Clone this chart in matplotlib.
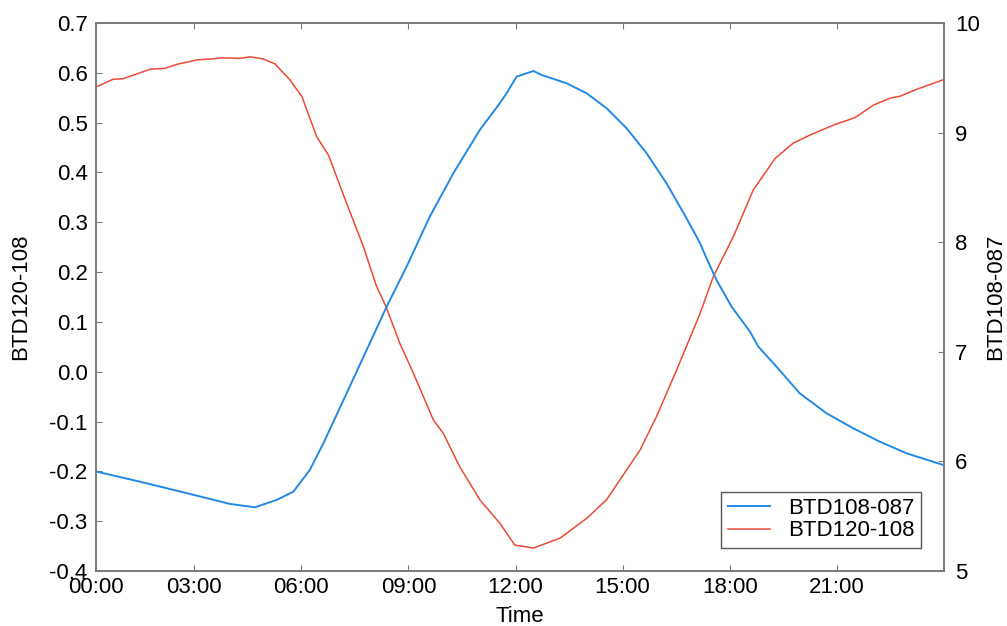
import numpy as np
import matplotlib
matplotlib.use("Agg")
import matplotlib.pyplot as plt

plt.rcParams['font.family'] = ['Liberation Sans', 'DejaVu Sans']
plt.rcParams['axes.unicode_minus'] = False

# BTD120-108 (left axis), hours of day vs value
t_120 = [0.27, 0.73, 1.01, 1.76, 2.18, 2.52, 3.08, 3.53, 3.78, 4.28, 4.56, 4.93,
         5.26, 5.68, 6.02, 6.43, 6.76, 7.27, 7.74, 8.11, 8.37, 8.76, 9.14, 9.70,
         9.98, 10.44, 11.00, 11.56, 11.98, 12.50, 13.25, 14.00, 14.55, 15.02,
         15.49, 15.95, 16.51, 16.98, 17.17, 17.54, 18.10, 18.66, 19.27, 19.78,
         20.25, 20.90, 21.51, 22.02, 22.49, 22.77, 23.24, 23.98]
btd_120 = [0.572, 0.587, 0.588, 0.607, 0.609, 0.617, 0.626, 0.628, 0.630, 0.629,
           0.632, 0.628, 0.618, 0.586, 0.552, 0.472, 0.435, 0.338, 0.251, 0.171,
           0.131, 0.057, -0.003, -0.097, -0.124, -0.191, -0.257, -0.304, -0.348,
           -0.354, -0.334, -0.294, -0.257, -0.207, -0.157, -0.090, 0.003, 0.084,
           0.117, 0.191, 0.271, 0.365, 0.428, 0.459, 0.475, 0.495, 0.510, 0.535,
           0.549, 0.553, 0.567, 0.586]

# BTD108-087 (right axis)
t_108 = [0.27, 1.48, 2.88, 4.00, 4.70, 5.31, 5.78, 6.24, 6.62, 7.27, 7.83, 8.39,
         8.95, 9.60, 10.26, 11.00, 11.56, 11.75, 12.03, 12.50, 12.73, 13.43,
         13.99, 14.55, 15.11, 15.67, 16.23, 16.79, 17.17, 17.35, 17.63, 18.05,
         18.57, 18.80, 19.31, 19.96, 20.71, 21.46, 22.20, 22.95, 23.98]
btd_108 = [5.906, 5.815, 5.703, 5.612, 5.581, 5.648, 5.724, 5.922, 6.166, 6.621,
           7.016, 7.411, 7.777, 8.233, 8.629, 9.024, 9.267, 9.359, 9.510, 9.562,
           9.526, 9.450, 9.359, 9.222, 9.040, 8.812, 8.537, 8.218, 7.990, 7.853,
           7.655, 7.412, 7.183, 7.047, 6.864, 6.621, 6.439, 6.302, 6.180, 6.074,
           5.967]

x_ticks = [0.25, 3, 6, 9, 12, 15, 18, 21]
x_ticklabels = ['00:00', '03:00', '06:00', '09:00', '12:00', '15:00', '18:00', '21:00']
y_left_ticks = [-0.4, -0.3, -0.2, -0.1, 0.0, 0.1, 0.2, 0.3, 0.4, 0.5, 0.6, 0.7]
y_right_ticks = [5, 6, 7, 8, 9, 10]

c_blue = '#2389e6'
c_red = '#ec4a36'
c_axis = '#7a7a7a'
fs = 16

fig = plt.figure(figsize=(10.07, 6.26), dpi=100)
ax = fig.add_axes([0.0953, 0.0879, 0.8421, 0.8754])
ax2 = ax.twinx()

l_red, = ax.plot(t_120, btd_120, color=c_red, linewidth=1.1, label='BTD120-108')
l_blue, = ax2.plot(t_108, btd_108, color=c_blue, linewidth=1.4, label='BTD108-087')

ax.set_xlim(0.25, 24.0)
ax.set_ylim(-0.4, 0.7)
ax2.set_ylim(5, 10)

ax.set_xticks(x_ticks)
ax.set_xticklabels(x_ticklabels)
ax.set_yticks(y_left_ticks)
ax.set_yticklabels([f'{v:.1f}' for v in y_left_ticks])
ax2.set_yticks(y_right_ticks)

for a in (ax, ax2):
    for s in a.spines.values():
        s.set_color(c_axis)
        s.set_linewidth(1.2)

ax.tick_params(axis='x', direction='in', top=True, length=4, color=c_axis,
               labelsize=fs, pad=4)
ax.tick_params(axis='y', direction='in', right=False, length=4, color=c_axis,
               labelsize=fs, pad=6)
ax2.tick_params(axis='y', direction='in', length=4, color=c_axis,
                labelsize=fs, pad=8)

ax.set_xlabel('Time', fontsize=fs, labelpad=6)
ax.set_ylabel('BTD120-108', fontsize=fs, labelpad=13)
ax2.set_ylabel('BTD108-087', fontsize=fs, labelpad=4)

leg = ax2.legend([l_blue, l_red], ['BTD108-087', 'BTD120-108'],
                 loc='lower right', bbox_to_anchor=(0.973, 0.042),
                 fontsize=fs, fancybox=False, framealpha=1, edgecolor='#555555',
                 handlelength=1.9, handletextpad=0.8, borderpad=0.3,
                 labelspacing=0.05, borderaxespad=0)
leg.get_frame().set_linewidth(1.0)

fig.savefig('out.png', dpi=100)
